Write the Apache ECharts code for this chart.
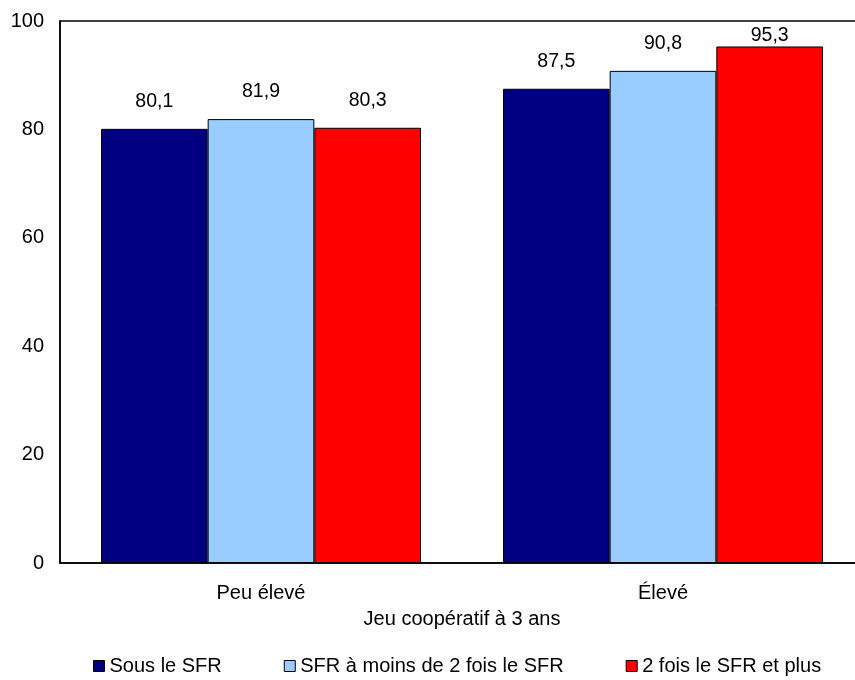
<!DOCTYPE html>
<html><head><meta charset="utf-8">
<script src="https://cdn.jsdelivr.net/npm/echarts@6/dist/echarts.min.js"></script>
<style>html,body{margin:0;padding:0;background:#fff;overflow:hidden;width:855px;height:680px}#c{width:864px;height:680px}</style>
</head><body><div id="c"></div>
<script>
var categories = ['Peu élevé', 'Élevé'];
var seriesNames = ['Sous le SFR', 'SFR à moins de 2 fois le SFR', '2 fois le SFR et plus'];
var sousSFR = [80.1, 87.5];
var moinsDeuxFois = [81.9, 90.8];
var deuxFoisPlus = [80.3, 95.3];
var yTicks = [0, 20, 40, 60, 80, 100];
var colors = ['#000080', '#99CCFF', '#FF0000'];
var font = '"Liberation Sans", Arial, sans-serif';

var chart = echarts.init(document.getElementById('c'), null, {renderer: 'canvas'});
function mk(name, data, color) {
  return {
    name: name, type: 'bar', barGap: '0%', barCategoryGap: '20.4%',
    data: data.map(function (v) {
      // labels that would cross the top frame are pushed down inside it
      return v > 93 ? {value: v, label: {offset: [0, 16]}} : v;
    }),
    itemStyle: {color: color, borderColor: '#000', borderWidth: 1},
    label: {show: true, position: 'top', distance: 17, color: '#000', fontFamily: font, fontSize: 19.5,
      formatter: function (p) { return p.value.toFixed(1).replace('.', ','); }},
    emphasis: {disabled: true}
  };
}
chart.setOption({
  animation: false,
  textStyle: {fontFamily: font},
  grid: {left: 60, right: 0, top: 21, bottom: 117, show: true, borderColor: '#000', borderWidth: 1.5},
  legend: {
    top: 651, left: 88, itemWidth: 11, itemHeight: 11, itemGap: 62,
    icon: 'rect',
    textStyle: {fontFamily: font, fontSize: 20, color: '#000'},
    data: seriesNames.map(function (n) { return {name: n, itemStyle: {borderColor: '#000', borderWidth: 1}}; })
  },
  xAxis: {
    type: 'category', data: categories,
    name: 'Jeu coopératif à 3 ans', nameLocation: 'middle', nameGap: 46,
    nameTextStyle: {fontFamily: font, fontSize: 20, color: '#000'},
    axisLine: {lineStyle: {color: '#000', width: 1.5}},
    axisTick: {show: false},
    axisLabel: {fontFamily: font, fontSize: 20, color: '#000', margin: 20}
  },
  yAxis: {
    type: 'value', min: yTicks[0], max: yTicks[yTicks.length - 1], interval: 20,
    axisLine: {show: true, lineStyle: {color: '#000', width: 1.5}},
    axisTick: {show: false},
    splitLine: {show: false},
    axisLabel: {fontFamily: font, fontSize: 20, color: '#000', margin: 16}
  },
  series: [mk(seriesNames[0], sousSFR, colors[0]), mk(seriesNames[1], moinsDeuxFois, colors[1]), mk(seriesNames[2], deuxFoisPlus, colors[2])]
});
</script></body></html>
